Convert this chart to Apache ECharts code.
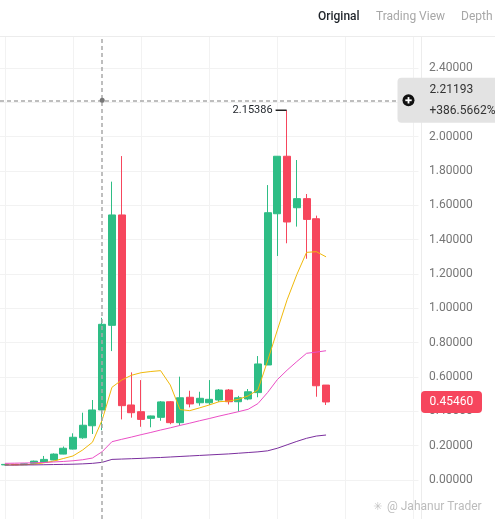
<!DOCTYPE html>
<html><head><meta charset="utf-8">
<script src="https://cdn.jsdelivr.net/npm/echarts@6/dist/echarts.min.js"></script>
<style>html,body{margin:0;padding:0;background:#fff;}#c{width:495px;height:519px;}</style>
</head><body><div id="c"></div>
<script>
// ---- data ----
const categories = ['D1','D2','D3','D4','D5','D6','D7','D8','D9','D10','D11','D12','D13','D14','D15','D16','D17','D18','D19','D20','D21','D22','D23','D24','D25','D26','D27','D28','D29','D30','D31','D32','D33','D34','D35','D36','D37','D38','D39','D40','D41','D42','D43'];
// [open, close, low, high]
const candles = [
  [0.088,0.091,0.086,0.093],
  [0.091,0.089,0.087,0.093],
  [0.089,0.094,0.088,0.096],
  [0.097,0.110,0.095,0.113],
  [0.103,0.120,0.100,0.140],
  [0.117,0.151,0.115,0.155],
  [0.151,0.185,0.150,0.195],
  [0.180,0.249,0.178,0.272],
  [0.246,0.319,0.240,0.392],
  [0.316,0.408,0.268,0.466],
  [0.408,0.907,0.290,0.945],
  [0.901,1.544,0.751,1.738],
  [1.544,0.433,0.353,1.887],
  [0.437,0.392,0.363,0.627],
  [0.398,0.353,0.310,0.582],
  [0.359,0.373,0.307,0.375],
  [0.365,0.455,0.345,0.460],
  [0.456,0.334,0.325,0.460],
  [0.334,0.479,0.320,0.602],
  [0.482,0.443,0.423,0.520],
  [0.450,0.476,0.433,0.514],
  [0.450,0.470,0.437,0.582],
  [0.466,0.524,0.455,0.530],
  [0.524,0.456,0.440,0.530],
  [0.456,0.479,0.398,0.490],
  [0.472,0.514,0.465,0.530],
  [0.509,0.676,0.482,0.722],
  [0.670,1.557,0.670,1.718],
  [1.551,1.886,1.305,1.886],
  [1.886,1.503,1.379,2.15386],
  [1.586,1.639,1.476,1.864],
  [1.639,1.518,1.289,1.666],
  [1.522,0.549,0.485,1.540],
  [0.553,0.4546,0.437,0.553]
];
const ma7  = [0.088,0.088,0.089,0.092,0.100,0.110,0.125,0.140,0.175,0.220,0.350,0.540,0.582,0.610,0.625,0.632,0.637,0.553,0.410,0.404,0.420,0.437,0.456,0.460,0.470,0.490,0.525,0.695,0.874,1.050,1.197,1.326,1.330,1.300];
const ma25 = [0.097,0.098,0.099,0.100,0.102,0.105,0.108,0.112,0.118,0.128,0.165,0.223,0.237,0.250,0.264,0.277,0.291,0.304,0.318,0.331,0.345,0.358,0.372,0.385,0.398,0.412,0.445,0.510,0.585,0.640,0.690,0.738,0.745,0.753];
const ma99 = [0.087,0.087,0.088,0.088,0.089,0.090,0.091,0.092,0.094,0.097,0.103,0.120,0.122,0.124,0.126,0.129,0.131,0.134,0.137,0.140,0.143,0.146,0.149,0.152,0.156,0.160,0.164,0.170,0.185,0.205,0.225,0.243,0.256,0.262];
const tabs = ['Original','Trading View','Depth'];
const crossIndex = 10;
const crossValue = 2.21193;
const crossChange = '+386.5662%';
const highIndex = 29;
const highValue = 2.15386;
const lastIndex = 33;
const lastPrice = 0.45460;
const watermark = '@ Jahanur Trader';

const FONT = 'Roboto';
const chart = echarts.init(document.getElementById('c'));
const dashStyle = {type:[4,3], color:'#a9a9a9', width:1.5};
chart.setOption({
  animation:false,
  backgroundColor:'#ffffff',
  grid:[
    {left:-2, right:76.5, top:68, bottom:39},
    {left:-2, right:76.5, top:37, bottom:0}
  ],
  xAxis:[
    {type:'category', gridIndex:0, data:categories, boundaryGap:true,
     axisLine:{show:false}, axisTick:{show:false}, axisLabel:{show:false}, splitLine:{show:false}},
    {type:'category', gridIndex:1, data:categories, boundaryGap:true,
     axisLine:{show:false}, axisTick:{show:false}, axisLabel:{show:false},
     splitLine:{show:true, interval:6, alignWithLabel:true, lineStyle:{color:'#f2f2f2', width:1}}}
  ],
  yAxis:[
    {type:'value', gridIndex:0, position:'right', min:0, max:2.4, interval:0.2, offset:2.5,
     axisLine:{show:false}, axisTick:{show:false},
     axisLabel:{margin:8, color:'#767676', fontSize:12, fontFamily:FONT, formatter:v=>v.toFixed(5)},
     splitLine:{lineStyle:{color:'#f2f2f2', width:1}}},
    {type:'value', gridIndex:1, position:'right', min:0, max:1, offset:2.5,
     axisLine:{show:true, lineStyle:{color:'#ececec'}}, axisTick:{show:false},
     axisLabel:{show:false}, splitLine:{show:false}}
  ],
  series:[
    {type:'line', xAxisIndex:1, yAxisIndex:1, data:[], silent:true,
     markLine:{silent:true, symbol:['none','none'], label:{show:false}, lineStyle:dashStyle,
       data:[{xAxis:crossIndex}]}},
    {type:'candlestick', xAxisIndex:0, yAxisIndex:0, data:candles, barWidth:7.5, z:3,
     itemStyle:{color:'#2ebd85', color0:'#f6465d', borderColor:'#2ebd85', borderColor0:'#f6465d', borderWidth:1},
     markLine:{silent:true, symbol:['none','none'], label:{show:false}, lineStyle:dashStyle,
       data:[{yAxis:crossValue}]},
     markPoint:{silent:true, data:[
       {coord:[highIndex, highValue], symbol:'rect', symbolSize:[11,1.5], symbolOffset:[-6,0],
        itemStyle:{color:'#222'},
        label:{show:true, position:'left', distance:3, formatter:highValue.toFixed(5), color:'#1e2329', fontSize:11, fontFamily:FONT}},
       {coord:[crossIndex, crossValue], symbol:'circle', symbolSize:5, itemStyle:{color:'#777'}, label:{show:false}}
     ]}},
    {type:'line', xAxisIndex:0, yAxisIndex:0, data:ma7, symbol:'none', silent:true, z:4,
     lineStyle:{color:'#f0b90b', width:1}},
    {type:'line', xAxisIndex:0, yAxisIndex:0, data:ma25, symbol:'none', silent:true, z:4,
     lineStyle:{color:'#eb4fc6', width:1}},
    {type:'line', xAxisIndex:0, yAxisIndex:0, data:ma99, symbol:'none', silent:true, z:4,
     lineStyle:{color:'#7b2e9e', width:1}}
  ]
});

const pc = chart.convertToPixel({xAxisIndex:0, yAxisIndex:0}, [crossIndex, crossValue]);
const pl = chart.convertToPixel({xAxisIndex:0, yAxisIndex:0}, [lastIndex, lastPrice]);
const tabX = [318, 376, 461];
const tabColor = ['#1e2329','#a7a7a7','#a7a7a7'];
const g = [
  {type:'line', shape:{x1:0,y1:36.5,x2:495,y2:36.5}, style:{stroke:'#ececec', lineWidth:1}, z:100}
];
tabs.forEach((t,i)=>g.push({type:'text', x:tabX[i], y:17, z:100,
  style:{text:t, fill:tabColor[i], font:(i===0?'500 ':'')+'12px '+FONT, textVerticalAlign:'middle'}}));
g.push(
  {type:'rect', shape:{x:397.5, y:pc[1]-22.5, width:110, height:45, r:4}, style:{fill:'#e3e3e3'}, z:100},
  {type:'circle', shape:{cx:408.5, cy:pc[1], r:6}, style:{fill:'#111'}, z:101},
  {type:'line', shape:{x1:405.3,y1:pc[1],x2:411.7,y2:pc[1]}, style:{stroke:'#fff', lineWidth:1.8}, z:102},
  {type:'line', shape:{x1:408.5,y1:pc[1]-3.2,x2:408.5,y2:pc[1]+3.2}, style:{stroke:'#fff', lineWidth:1.8}, z:102},
  {type:'text', x:429.5, y:pc[1]-10.5, z:101, style:{text:crossValue.toFixed(5), fill:'#333', font:'12px '+FONT, textVerticalAlign:'middle'}},
  {type:'text', x:429.5, y:pc[1]+11, z:101, style:{text:crossChange, fill:'#333', font:'12px '+FONT, textVerticalAlign:'middle'}},
  {type:'rect', shape:{x:421, y:pl[1]-11, width:61, height:22, r:4}, style:{fill:'#f6465d'}, z:100},
  {type:'text', x:429.5, y:pl[1]+0.5, z:101, style:{text:lastPrice.toFixed(5), fill:'#fff', font:'12px '+FONT, textVerticalAlign:'middle'}},
  {type:'text', x:373, y:507, z:100, style:{text:'✳', fill:'#c4c4c4', font:'11px DejaVu Sans', textVerticalAlign:'middle'}},
  {type:'text', x:387, y:507, z:100, style:{text:watermark, fill:'#bcbcbc', font:'12px '+FONT, textVerticalAlign:'middle'}}
);
chart.setOption({graphic:g});
</script></body></html>
